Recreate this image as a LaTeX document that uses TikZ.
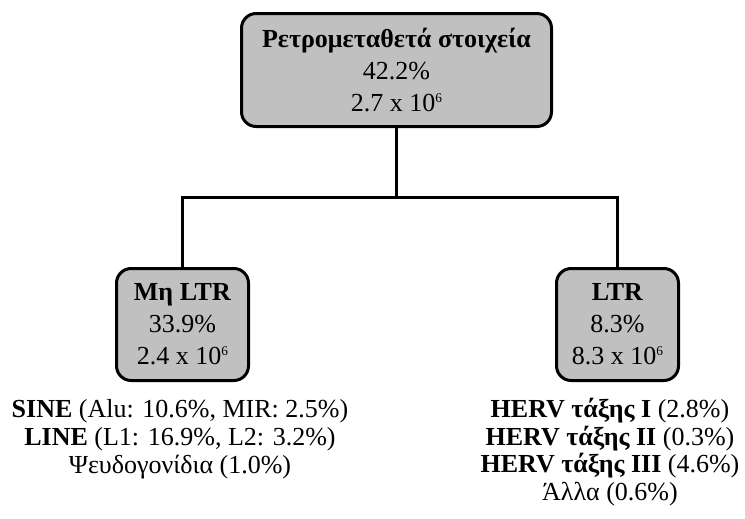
\documentclass[tikz,border=0pt]{standalone}
\usepackage{fontspec}
\setmainfont{Liberation Serif}
\definecolor{boxgray}{RGB}{192,192,192}
\newcommand{\supsix}{\raisebox{0.78ex}{\fontsize{10}{10}\selectfont 6}}
\begin{document}
\begin{tikzpicture}[x=0.75pt,y=-0.75pt,
  box/.style={draw=black, line width=2.25pt, fill=boxgray, rounded corners=11pt,
    align=center, inner sep=0pt, font=\fontsize{19.5}{24}\selectfont},
  conn/.style={draw=black, line width=2.25pt},
  listtxt/.style={anchor=base, inner sep=0pt, font=\fontsize{19.5}{21}\selectfont}]
\useasboundingbox (0,0) rectangle (745,518);
\node[box, minimum width=232.5pt, minimum height=84.75pt] (top) at (396.5,70)
  {\textbf{Ρετρομεταθετά στοιχεία}\\42.2\%\\2.7 x 10\supsix};
\node[box, minimum width=99pt, minimum height=84pt] (left) at (182.5,324.5)
  {\textbf{Μη LTR}\\33.9\%\\2.4 x 10\supsix};
\node[box, minimum width=91.5pt, minimum height=84pt] (right) at (617.5,324.5)
  {\textbf{LTR}\\8.3\%\\8.3 x 10\supsix};
\coordinate (j) at (396.5,197);
\draw[conn] (top.south) -- (j);
\draw[conn] (left.north) |- (j) -| (right.north);
\node[listtxt] (l1) at (180,417) {\textbf{SINE} (Alu: 10.6\%, MIR: 2.5\%)};
\node[listtxt] (l2) at (180,445) {\textbf{LINE} (L1: 16.9\%, L2: 3.2\%)};
\node[listtxt] (l3) at (180,473) {Ψευδογονίδια (1.0\%)};
\node[listtxt] (r1) at (610,417) {\textbf{HERV τάξης I} (2.8\%)};
\node[listtxt] (r2) at (610,445) {\textbf{HERV τάξης II} (0.3\%)};
\node[listtxt] (r3) at (610,472) {\textbf{HERV τάξης III} (4.6\%)};
\node[listtxt] (r4) at (610,500) {Άλλα (0.6\%)};
\end{tikzpicture}
\end{document}
